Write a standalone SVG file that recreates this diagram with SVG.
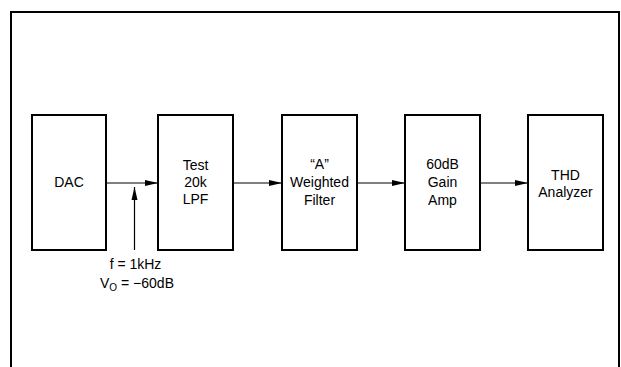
<svg xmlns="http://www.w3.org/2000/svg" width="621" height="367" viewBox="0 0 621 367">
<style>
.box{fill:#fff;stroke:#000;stroke-width:2}
.frame{fill:#fff;stroke:#000;stroke-width:2}
.t{font-family:"Liberation Sans",Arial,sans-serif;font-size:14px;fill:#000;text-anchor:middle}
.ln{stroke:#000;stroke-width:1.2;fill:none}
</style>
<defs>
<marker id="ah" markerWidth="14" markerHeight="7" refX="13" refY="3.5" orient="auto" markerUnits="userSpaceOnUse">
<path d="M0,0.5 L13,3.5 L0,6.5 Z" fill="#000"/>
</marker>
</defs>
<rect class="frame" x="11" y="12" width="608" height="370"/>
<g id="dac">
<rect class="box" x="32" y="115" width="74" height="135"/>
<text class="t" x="69" y="187">DAC</text>
</g>
<g id="lpf">
<rect class="box" x="158" y="115" width="75" height="135"/>
<text class="t" x="195.5" y="170">Test</text>
<text class="t" x="195.5" y="187">20k</text>
<text class="t" x="195.5" y="204">LPF</text>
</g>
<g id="weighted">
<rect class="box" x="282" y="115" width="75" height="135"/>
<text class="t" x="319.5" y="169">“A”</text>
<text class="t" x="319.5" y="187">Weighted</text>
<text class="t" x="319.5" y="205">Filter</text>
</g>
<g id="gain">
<rect class="box" x="405" y="115" width="75" height="135"/>
<text class="t" x="442.5" y="169">60dB</text>
<text class="t" x="442.5" y="187">Gain</text>
<text class="t" x="442.5" y="205">Amp</text>
</g>
<g id="thd">
<rect class="box" x="528" y="115" width="75" height="135"/>
<text class="t" x="565.5" y="180">THD</text>
<text class="t" x="565.5" y="197">Analyzer</text>
</g>
<g id="connectors">
<line class="ln" x1="106" y1="183" x2="158" y2="183" marker-end="url(#ah)"/>
<line class="ln" x1="233" y1="183" x2="282" y2="183" marker-end="url(#ah)"/>
<line class="ln" x1="357" y1="183" x2="405" y2="183" marker-end="url(#ah)"/>
<line class="ln" x1="480" y1="183" x2="528" y2="183" marker-end="url(#ah)"/>
<line class="ln" x1="134.5" y1="250" x2="134.5" y2="187" marker-end="url(#ah)"/>
</g>
<g id="label">
<text class="t" x="135.5" y="269">f = 1kHz</text>
<text class="t" x="137" y="288">V<tspan font-size="10" dy="3">O</tspan><tspan dy="-3"> = −60dB</tspan></text>
</g>
</svg>
